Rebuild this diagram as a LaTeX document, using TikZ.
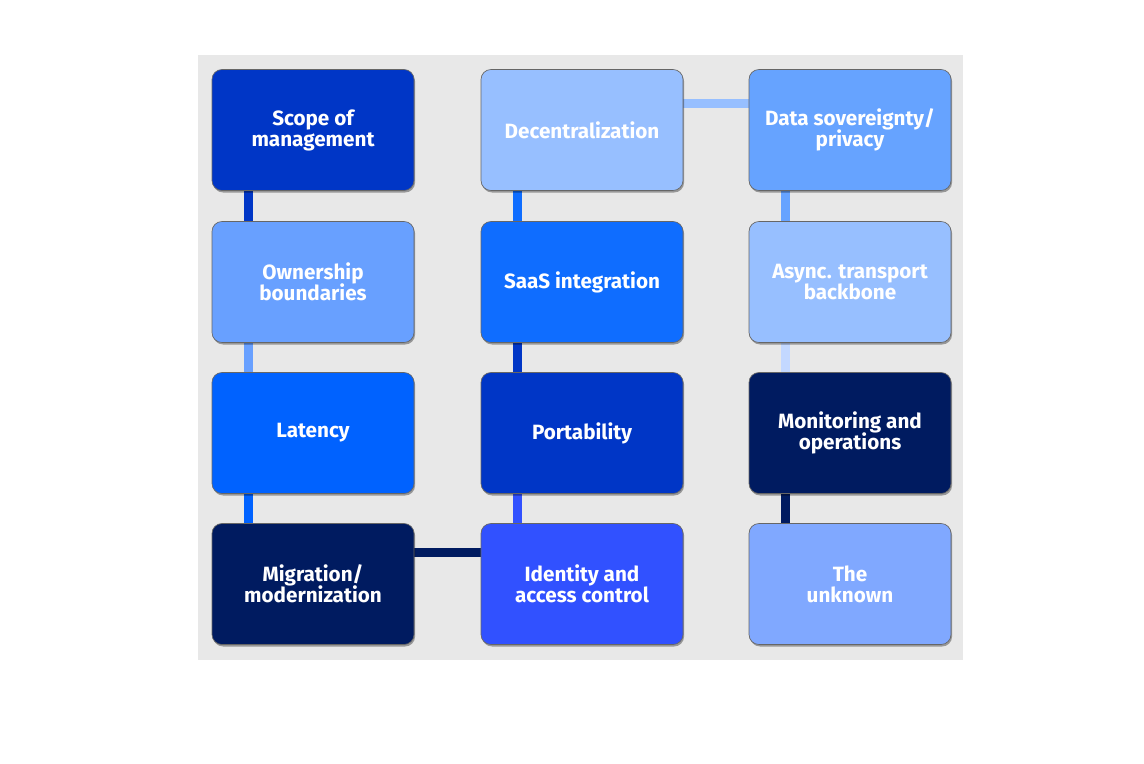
\documentclass[tikz,border=0pt]{standalone}
\usepackage{fontspec}
\setmainfont{Fira Sans}
\usetikzlibrary{shadows}
\definecolor{cScope}{HTML}{0036C6}
\definecolor{cOwn}{HTML}{68A0FF}
\definecolor{cLat}{HTML}{0062FF}
\definecolor{cMig}{HTML}{001B60}
\definecolor{cDec}{HTML}{97BFFF}
\definecolor{cSaaS}{HTML}{0F6DFF}
\definecolor{cPort}{HTML}{0036C6}
\definecolor{cId}{HTML}{3151FF}
\definecolor{cData}{HTML}{66A3FF}
\definecolor{cAsync}{HTML}{97BFFF}
\definecolor{cMon}{HTML}{001B60}
\definecolor{cUnk}{HTML}{80A8FF}
\definecolor{cLight}{HTML}{C3D8FF}
\definecolor{bgGray}{HTML}{E8E8E8}
\pgfdeclarelayer{bglayer}
\pgfdeclarelayer{connlayer}
\pgfsetlayers{bglayer,connlayer,main}
\tikzset{
  box/.style={rectangle, rounded corners=7.5pt, minimum width=151.5pt, minimum height=90.75pt,
    draw=black!60, line width=0.5pt, text=white, align=center,
    font={\fontsize{15.5}{15.75}\selectfont\bfseries\lineskiplimit=-30pt},
    drop shadow={shadow xshift=0.8pt, shadow yshift=-1.5pt, opacity=0.35, fill=black}},
  conn/.style={line width=6.75pt}
}
\begin{document}
\begin{tikzpicture}[x=0.75pt,y=-0.75pt]
\useasboundingbox (0,0) rectangle (1144,763);
\begin{pgfonlayer}{bglayer}
\fill[bgGray] (198,55) rectangle (963,660);
\end{pgfonlayer}
% nodes
\node[box, fill=cScope] (scope) at (313,130) {Scope of\\management};
\node[box, fill=cOwn]   (own)   at (313,282) {Ownership\\boundaries};
\node[box, fill=cLat]   (lat)   at (313,433) {Latency};
\node[box, fill=cMig]   (mig)   at (313,584) {Migration/\\modernization};
\node[box, fill=cDec]   (dec)   at (582,130) {Decentralization};
\node[box, fill=cSaaS]  (saas)  at (582,282) {SaaS integration};
\node[box, fill=cPort]  (port)  at (582,433) {Portability};
\node[box, fill=cId]    (id)    at (582,584) {Identity and\\access control};
\node[box, fill=cData]  (data)  at (850,130) {Data sovereignty/\\privacy};
\node[box, fill=cAsync] (async) at (850,282) {Async. transport\\backbone};
\node[box, fill=cMon]   (mon)   at (850,433) {Monitoring and\\operations};
\node[box, fill=cUnk]   (unk)   at (850,584) {The\\unknown};
% connectors behind boxes
\begin{pgfonlayer}{connlayer}
\draw[conn, cScope] ([xshift=-48.75pt]scope.south) -- ([xshift=-48.75pt]own.north);
\draw[conn, cOwn]   ([xshift=-48.75pt]own.south) -- ([xshift=-48.75pt]lat.north);
\draw[conn, cLat]   ([xshift=-48.75pt]lat.south) -- ([xshift=-48.75pt]mig.north);
\draw[conn, cSaaS]  ([xshift=-48.75pt]dec.south) -- ([xshift=-48.75pt]saas.north);
\draw[conn, cPort]  ([xshift=-48.75pt]saas.south) -- ([xshift=-48.75pt]port.north);
\draw[conn, cId]    ([xshift=-48.75pt]port.south) -- ([xshift=-48.75pt]id.north);
\draw[conn, cData]  ([xshift=-48.75pt]data.south) -- ([xshift=-48.75pt]async.north);
\draw[conn, cLight] ([xshift=-48.75pt]async.south) -- ([xshift=-48.75pt]mon.north);
\draw[conn, cMon]   ([xshift=-48.75pt]mon.south) -- ([xshift=-48.75pt]unk.north);
\draw[conn, cDec]   ([yshift=19.5pt]dec.east) -- ([yshift=19.5pt]data.west);
\draw[conn, cMig]   ([yshift=23.6pt]mig.east) -- ([yshift=23.6pt]id.west);
\end{pgfonlayer}
\end{tikzpicture}
\end{document}
